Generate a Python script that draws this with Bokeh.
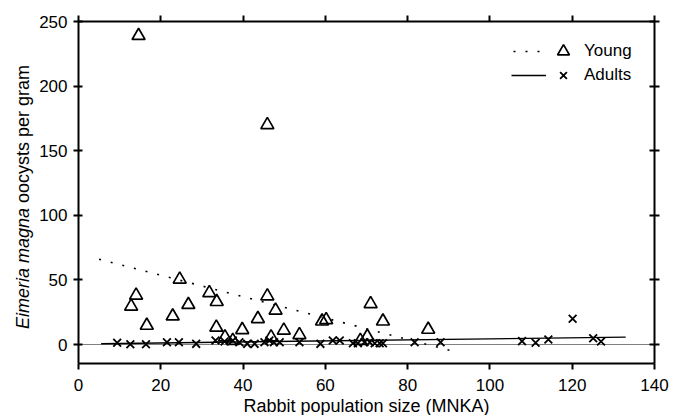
import math
from bokeh.plotting import figure
from bokeh.layouts import row
from bokeh.models import (Range1d, LinearAxis, Span, Legend, LegendItem, Div,
                          FixedTicker, ColumnDataSource, CustomLabelingPolicy)
from bokeh.core.properties import value
from bokeh.embed import file_html
from bokeh.resources import INLINE

# ---- data ----
young_x = [14.6, 45.9, 14.0, 12.8, 16.6, 24.6, 26.7, 22.9, 31.8, 33.6, 33.5, 35.6, 37.5,
           39.8, 43.6, 45.9, 47.9, 46.8, 49.9, 53.7, 59.2, 60.2, 71.0, 74.0, 70.2, 68.5, 85.0]
young_y = [239, 170, 38, 29.5, 14.7, 50.4, 30.8, 21.9, 40, 33.1, 13.2, 5.7, 3,
           11.4, 19.9, 37.4, 26.4, 5.7, 10.9, 7.5, 18, 19.1, 31.5, 18, 6.2, 3, 11.6]

adult_x = [9.4, 12.6, 16.4, 21.5, 24.4, 28.6, 33.3, 35.5, 37.5, 39.1, 41.0, 42.8, 45.2,
           46.4, 47.5, 48.9, 53.7, 58.8, 61.8, 63.5, 66.7, 67.9, 69.5, 70.8, 72.0, 73.2,
           74.0, 81.7, 88.0, 107.8, 111.1, 114.2, 120.1, 125.1, 127.0]
adult_y = [1.3, 0.2, 0.2, 1.8, 1.8, 0.5, 3.1, 2.3, 3.1, 1.8, 0.5, 0.5, 1.8,
           3.1, 1.8, 1.8, 1.8, 0.5, 3.1, 3.1, 1, 1, 1.8, 1.8, 1, 1,
           1, 1.8, 1.8, 2.6, 1.3, 3.9, 19.9, 4.9, 2.3]

# regression lines (end points)
young_fit_x = [5, 92]
young_fit_y = [66, -6]
adult_fit_x = [5.5, 133]
adult_fit_y = [0.6, 5.7]

x_ticks = [0, 20, 40, 60, 80, 100, 120, 140]
y_ticks = [0, 50, 100, 150, 200, 250]

FONT = "Liberation Sans"

p = figure(frame_width=576, frame_height=342,
           min_border_left=41, min_border_right=22, min_border_top=15, min_border_bottom=50,
           x_range=Range1d(0, 140), y_range=Range1d(-14.7, 250),
           x_axis_location=None, y_axis_location=None,
           output_backend="svg", toolbar_location=None)
p.grid.visible = False
p.outline_line_color = None
p.background_fill_color = "white"
p.border_fill_color = "white"

no_labels = CustomLabelingPolicy(code="""
for (const i of indices) indices.unset(i)
return indices
""")


def style_axis(ax, show_labels, tin, tout):
    ax.axis_line_width = 2
    ax.axis_line_color = "black"
    ax.major_tick_line_width = 2
    ax.major_tick_line_color = "black"
    ax.major_tick_in = tin
    ax.major_tick_out = tout
    ax.minor_tick_line_color = None
    ax.major_label_text_font = FONT
    ax.major_label_text_font_size = "17px"
    ax.major_label_text_color = "black"
    if not show_labels:
        ax.major_label_policy = no_labels
        ax.major_label_standoff = 0


bottom = LinearAxis(ticker=FixedTicker(ticks=x_ticks),
                    axis_label="Rabbit population size (MNKA)")
style_axis(bottom, True, 0, 6)
bottom.major_label_standoff = 9
bottom.axis_label_text_font = FONT
bottom.axis_label_text_font_size = "18px"
bottom.axis_label_text_font_style = "normal"
bottom.axis_label_text_color = "black"
bottom.axis_label_standoff = 2
p.add_layout(bottom, "below")

left = LinearAxis(ticker=FixedTicker(ticks=y_ticks))
style_axis(left, True, 4, 5)
left.major_label_standoff = 6
p.add_layout(left, "left")

top = LinearAxis(ticker=FixedTicker(ticks=x_ticks))
style_axis(top, False, 0, 6)
p.add_layout(top, "above")

right = LinearAxis(ticker=FixedTicker(ticks=y_ticks))
style_axis(right, False, 5, 5)
p.add_layout(right, "right")

# zero reference line
p.add_layout(Span(location=0, dimension="width", line_color="black",
                  line_width=1.2, line_dash="1 1"))

young_src = ColumnDataSource(dict(x=young_x, y=young_y))
adult_src = ColumnDataSource(dict(x=adult_x, y=adult_y))

young_line = p.line(young_fit_x, young_fit_y, line_color="black", line_width=1.6,
                    line_dash="2 10")
adult_line = p.line(adult_fit_x, adult_fit_y, line_color="black", line_width=1.4)

young_pts = p.scatter("x", "y", source=young_src, marker="triangle", size=13,
                      fill_color=None, line_color="black", line_width=1.7)
adult_pts = p.scatter("x", "y", source=adult_src, marker="x", size=11,
                      line_color="black", line_width=1.8)


def make_legend(item, loc, gw, gh, standoff):
    lg = Legend(items=[item], location=loc, orientation="vertical")
    lg.border_line_color = None
    lg.background_fill_alpha = 0
    lg.padding = 0
    lg.margin = 0
    lg.spacing = 0
    lg.glyph_height = gh
    lg.glyph_width = gw
    lg.label_height = gh
    lg.label_width = 10
    lg.label_standoff = standoff
    lg.label_text_font = FONT
    lg.label_text_font_size = "17px"
    lg.label_text_color = "black"
    return lg


# legend: line sample, then marker, then text (rows centred at y=45 and y=69 px)
p.add_layout(make_legend(LegendItem(label=value(""), renderers=[young_line]),
                         (435, 302), 35, 20, 0))
p.add_layout(make_legend(LegendItem(label=value(""), renderers=[adult_line]),
                         (433, 278), 35, 20, 0))
p.add_layout(make_legend(LegendItem(label="Young", renderers=[young_pts]),
                         (470, 297), 30, 30, 6))
p.add_layout(make_legend(LegendItem(label="Adults", renderers=[adult_pts]),
                         (473, 276), 24, 24, 9))

# y axis title, with the genus name in italics
ytitle = Div(
    text=('<div style="width:36px;height:400px;position:relative;">'
          '<div style="position:absolute;left:23px;top:197px;'
          'transform:translate(-50%,-50%) rotate(-90deg);white-space:nowrap;'
          "font-family:'Liberation Sans';font-size:18px;line-height:1;color:black;\">"
          '<i>Eimeria magna</i> oocysts per gram</div></div>'),
    width=36, height=400, margin=0)

layout = row(ytitle, p, spacing=0)

open("out.html", "w").write(file_html(layout, INLINE))
